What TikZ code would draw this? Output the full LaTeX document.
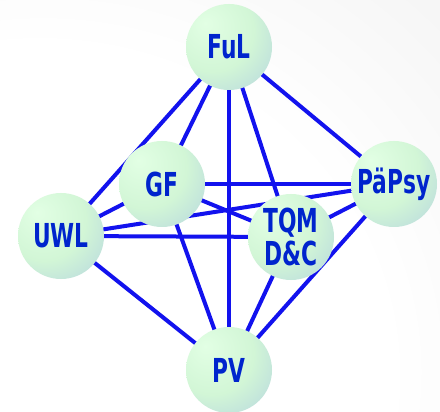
\documentclass[tikz,border=0pt]{standalone}
\usepackage{fontspec}
\newfontfamily\lab{DejaVu Sans}
\definecolor{edgeblue}{RGB}{18,18,238}
\definecolor{txtblue}{RGB}{0,36,205}
\definecolor{sA}{RGB}{226,255,228}
\definecolor{sB}{RGB}{210,246,214}
\definecolor{sC}{RGB}{180,212,224}
\definecolor{sD}{RGB}{138,158,212}
\definecolor{bgA}{RGB}{255,255,255}
\definecolor{bgB}{RGB}{232,232,232}
\definecolor{bgC}{RGB}{208,208,208}
\pgfdeclareradialshading{sphere}{\pgfpoint{-14bp}{14bp}}{color(0bp)=(sA); color(24bp)=(sB); color(46bp)=(sC); color(62bp)=(sD); color(80bp)=(sD)}
\pgfdeclareradialshading{bgshade}{\pgfpoint{-30bp}{-30bp}}{color(0bp)=(bgA); color(40bp)=(bgA); color(85bp)=(bgB); color(110bp)=(bgC); color(130bp)=(bgC)}
\newcommand\sx[1]{\scalebox{0.66}[1]{#1}}
\tikzset{
  ball/.style={circle, minimum size=86pt, inner sep=0pt, shading=sphere,
    font=\lab\bfseries\fontsize{33}{33}\selectfont, text=txtblue, align=center},
  link/.style={draw=edgeblue, line width=4pt}
}
\begin{document}
\begin{tikzpicture}[x=1pt,y=-1pt]
\useasboundingbox (0,0) rectangle (440,412);
\shade[shading=bgshade] (0,0) rectangle (440,412);
\coordinate (cF) at (229,47);
\coordinate (cG) at (162,184);
\coordinate (cP) at (394,184);
\coordinate (cU) at (61,236);
\coordinate (cT) at (291,237);
\coordinate (cV) at (229,370);
\foreach \a/\b in {cF/cU,cF/cG,cF/cV,cF/cT,cF/cP,cG/cP,cG/cT,cG/cV,cG/cU,cU/cP,cU/cT,cU/cV,cT/cP,cT/cV,cP/cV}
  \draw[link] (\a) -- (\b);
\node[ball] (FuL) at (cF) {\sx{FuL}};
\node[ball] (GF) at (cG) {\sx{GF}};
\node[ball] (PaePsy) at (cP) {\sx{PäPsy}};
\node[ball] (UWL) at (cU) {\sx{UWL}};
\node[ball] (TQM) at (cT) {\sx{TQM}\\\sx{D\&C}};
\node[ball] (PV) at (cV) {\sx{PV}};
\end{tikzpicture}
\end{document}
